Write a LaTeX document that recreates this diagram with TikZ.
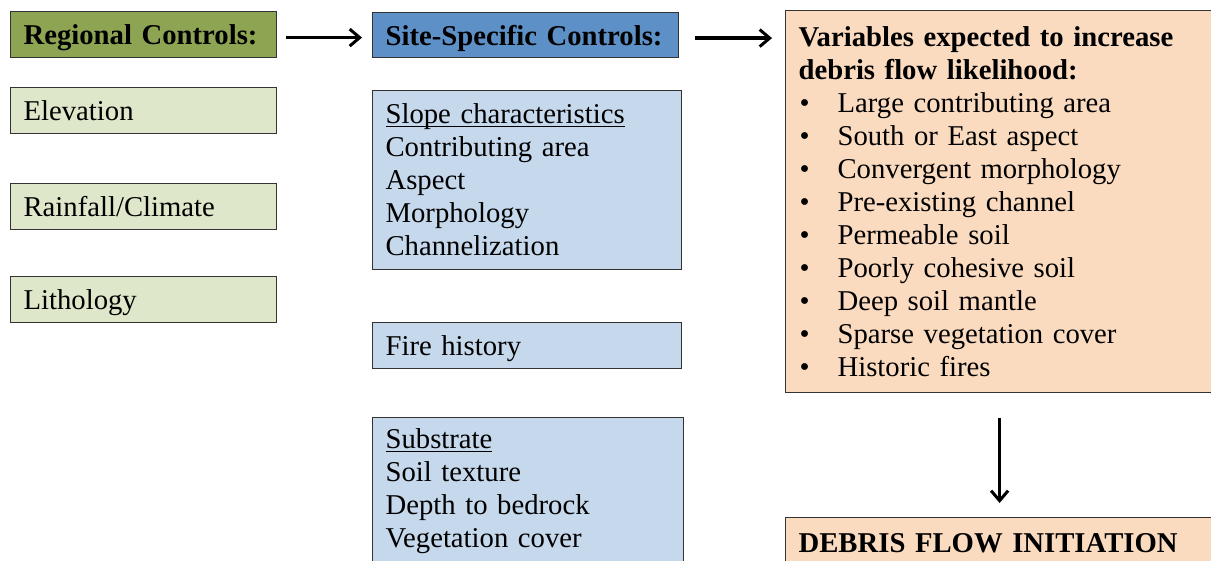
\documentclass[tikz,border=0pt]{standalone}
\usepackage{fontspec}
\setmainfont{Liberation Serif}
\usetikzlibrary{arrows.meta}
\definecolor{regG}{HTML}{8DA553}
\definecolor{siteB}{HTML}{5E90C8}
\definecolor{lightG}{HTML}{DEE7C9}
\definecolor{lightB}{HTML}{C6D8EC}
\definecolor{peach}{HTML}{FBDBC0}
\newcommand\myul[1]{\setbox0\hbox{#1}\rlap{\rule[-3.5pt]{\wd0}{1.2pt}}\box0}
\newcommand\bul[1]{\hspace*{1pt}\makebox[38pt][l]{\textbullet}#1}
\tikzset{
  box/.style={draw=black!80, line width=1.2pt, inner xsep=13pt, inner ysep=0pt,
    align=left, anchor=north west, font=\fontsize{28.7}{33}\selectfont},
  onebox/.style={box, text height=24pt, text depth=4pt},
  arr/.style={-{Straight Barb[length=10pt,width=17pt,line width=3pt]}, line width=3.2pt}
}
\begin{document}
\begin{tikzpicture}[x=1pt,y=1pt]
\clip (0,0) rectangle (1211,-561);
\fill[white] (0,0) rectangle (1211,-561);
% left column
\node[onebox, fill=regG, text width=240pt, minimum height=46pt] (reg) at (10,-11) {\textbf{Regional Controls:}};
\node[onebox, fill=lightG, text width=240pt, minimum height=46pt] (elev) at (10,-87) {Elevation};
\node[onebox, fill=lightG, text width=240pt, minimum height=46pt] (rain) at (10,-183) {Rainfall/Climate};
\node[onebox, fill=lightG, text width=240pt, minimum height=46pt] (lith) at (10,-276) {Lithology};
% middle column
\node[onebox, fill=siteB, text width=280pt, minimum height=45pt] (site) at (372,-12) {\textbf{Site-Specific Controls:}};
\node[box, fill=lightB, text width=283pt, minimum height=179pt] (slope) at (372,-90)
  {\myul{Slope characteristics}\\Contributing area\\Aspect\\Morphology\\Channelization};
\node[onebox, fill=lightB, text width=283pt, minimum height=46pt] (fire) at (372,-322) {Fire history};
\node[box, fill=lightB, text width=285pt, minimum height=148pt] (sub) at (372,-417)
  {\myul{Substrate}\\Soil texture\\Depth to bedrock\\Vegetation cover};
% right column
\node[box, fill=peach, text width=402pt, minimum height=382pt] (var) at (785,-10)
  {\textbf{Variables expected to increase}\\\textbf{debris flow likelihood:}\\
   \bul{Large contributing area}\\\bul{South or East aspect}\\\bul{Convergent morphology}\\
   \bul{Pre-existing channel}\\\bul{Permeable soil}\\\bul{Poorly cohesive soil}\\
   \bul{Deep soil mantle}\\\bul{Sparse vegetation cover}\\\bul{Historic fires}};
\node[onebox, fill=peach, text width=402pt, minimum height=49pt] (deb) at (785,-517) {\textbf{DEBRIS FLOW INITIATION}};
% arrows
\draw[arr, shorten <=9pt, shorten >=10pt] ([yshift=-3pt]reg.east) -- ([yshift=-3pt]reg.east -| site.west);
\draw[arr, shorten <=16pt, shorten >=13pt] ([yshift=-3pt]site.east) -- ([yshift=-3pt]site.east -| var.west);
\draw[arr, shorten <=25pt, shorten >=14pt] (var.south) -- (deb.north);
\end{tikzpicture}
\end{document}
